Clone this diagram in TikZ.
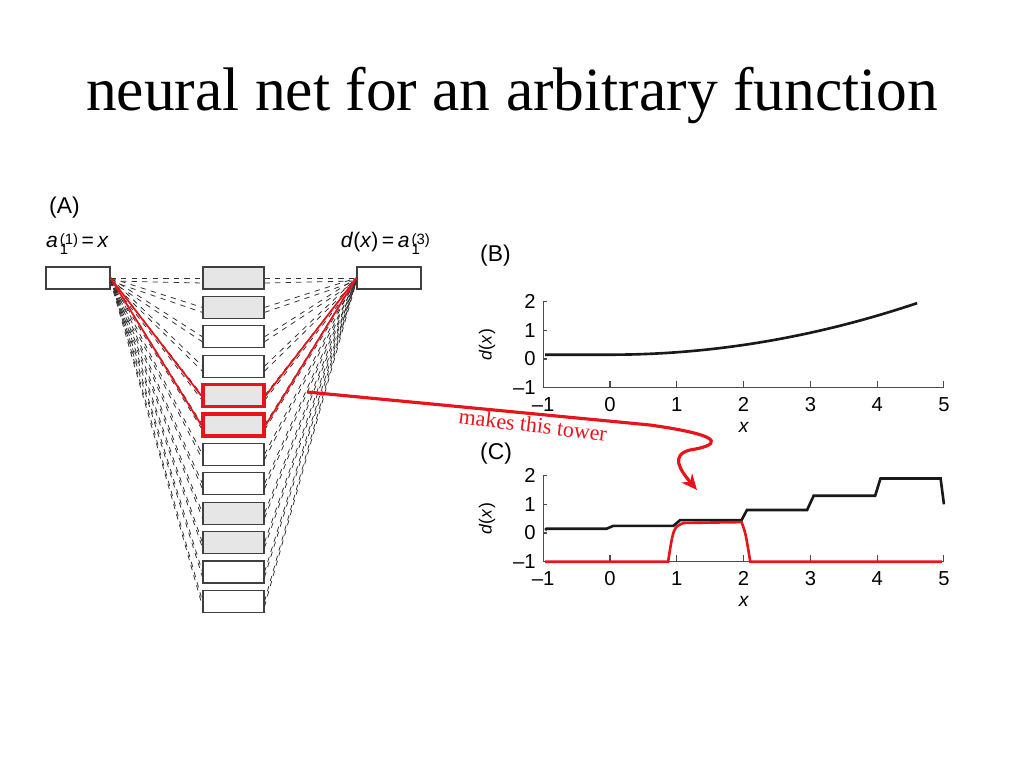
\documentclass[tikz,border=0pt]{standalone}
\usepackage{fontspec}
\setmainfont{Liberation Serif}
\setsansfont{Liberation Sans}
\usepackage{xcolor}
\definecolor{netred}{HTML}{E8141B}
\definecolor{unitgray}{HTML}{E6E6E6}
\usetikzlibrary{arrows.meta,calc,positioning}
\newcommand{\supsub}[2]{\kern1.2pt\raisebox{-0.2ex}{\fontsize{8.5}{8.5}\selectfont\begin{tabular}{@{}l@{}}#1\\[-0.6ex]#2\end{tabular}}}

\begin{document}
\begin{tikzpicture}[x=0.02cm,y=-0.02cm,
    >=Stealth,
    every node/.style={font=\sffamily},
    unit/.style={draw=black!75, fill=#1, minimum width=1.22cm, minimum height=0.44cm, inner sep=0pt, line width=0.6pt},
    unit/.default=white,
    wire/.style={dashed, line width=0.45pt, black!80},
    redwire/.style={netred, line width=1pt},
    axis/.style={line width=0.6pt, black!70},
    ticklab/.style={font=\sffamily\fontsize{11.5}{11.5}\selectfont},
    curve/.style={line width=1.5pt, black!90},
  ]
  \useasboundingbox (0,0) rectangle (1024,768);

  % title
  \node[font=\rmfamily\fontsize{35}{35}\selectfont] (title) at (512,95) {neural net for an arbitrary function};

  % panel (A): the network
  \node[font=\sffamily\fontsize{13}{13}\selectfont, anchor=west] (labA) at (43,208) {(A)};
  \node[unit, minimum width=1.28cm] (inp) at (78,278) {};
  \node[unit, minimum width=1.28cm] (out) at (389,278) {};
  \node[font=\sffamily\fontsize{12}{12}\selectfont, anchor=west, inner sep=1pt] (inlab) at (44,246) {\textit{a}\supsub{(1)}{1}\,=\,\textit{x}};
  \node[font=\sffamily\fontsize{12}{12}\selectfont, anchor=east, inner sep=1pt] (outlab) at (432,246) {\textit{d}(\textit{x})\,=\,\textit{a}\supsub{(3)}{1}};
  \foreach \i/\c in {1/unitgray,2/unitgray,3/white,4/white,5/unitgray,6/unitgray,7/white,8/white,9/unitgray,10/unitgray,11/white,12/white} {
    \node[unit=\c] (h\i) at (233.5,{278+29.4*(\i-1)}) {};
    \draw[wire] (inp.east) -- (h\i.west);
    \draw[wire] ($(inp.east)+(0,3)$) -- ($(h\i.west)+(0,5)$);
    \draw[wire] (h\i.east) -- (out.west);
    \draw[wire] ($(h\i.east)+(0,5)$) -- ($(out.west)+(0,3)$);
  }
  \foreach \i in {5,6} {
    \node[unit=unitgray, draw=netred, line width=2pt] (r\i) at (h\i) {};
    \draw[redwire] (inp.east) -- (r\i.west);
    \draw[redwire] (r\i.east) -- (out.west);
  }

  % panel (B)
  \node[font=\sffamily\fontsize{13}{13}\selectfont, anchor=west] (labB) at (474,256) {(B)};
  \begin{scope}[shift={(610,359)}, x=1.336cm, y=0.574cm]
    \draw[axis] (-1,2) -- (-1,-1) -- (5,-1);
    \foreach \t in {-1,...,5} {
      \draw[axis] (\t,-1) -- ++(0,0.22);
    }
    \foreach \t/\s in {-1/{\textendash1},0/0,1/1,2/2,3/3,4/4,5/5} {
      \node[ticklab, below] (bx\t) at (\t,-1.12) {\s};
    }
    \foreach \t/\s in {-1/{\textendash1},0/0,1/1,2/2} {
      \draw[axis] (-1,\t) -- ++(0.05,0);
      \node[ticklab, left] (by\t) at (-1.02,\t) {\s};
    }
    \node[ticklab, font=\sffamily\itshape\fontsize{11}{11}\selectfont] (bxl) at (2,-2.4) {x};
    \node[ticklab, font=\sffamily\fontsize{10}{10}\selectfont, rotate=90] (byl) at (-1.84,0.5) {\textit{d}(\textit{x})};
    \draw[curve] plot[domain=-0.97:4.6, samples=50] (\x,{0.15+0.085*(max(\x,0))^2});
  \end{scope}

  % panel (C)
  \node[font=\sffamily\fontsize{13}{13}\selectfont, anchor=west] (labC) at (474,454) {(C)};
  \begin{scope}[shift={(610,533)}, x=1.336cm, y=0.574cm]
    \draw[axis] (-1,2) -- (-1,-1) -- (5,-1);
    \foreach \t in {-1,...,5} {
      \draw[axis] (\t,-1) -- ++(0,0.22);
    }
    \foreach \t/\s in {-1/{\textendash1},0/0,1/1,2/2,3/3,4/4,5/5} {
      \node[ticklab, below] (cx\t) at (\t,-1.12) {\s};
    }
    \foreach \t/\s in {-1/{\textendash1},0/0,1/1,2/2} {
      \draw[axis] (-1,\t) -- ++(0.05,0);
      \node[ticklab, left] (cy\t) at (-1.02,\t) {\s};
    }
    \node[ticklab, font=\sffamily\itshape\fontsize{11}{11}\selectfont] (cxl) at (2,-2.4) {x};
    \node[ticklab, font=\sffamily\fontsize{10}{10}\selectfont, rotate=90] (cyl) at (-1.84,0.5) {\textit{d}(\textit{x})};
    \draw[curve] (-0.97,0.1) -- (-0.95,0.15) -- (-0.05,0.15) -- (0.05,0.25) -- (0.95,0.25)
      -- (1.05,0.45) -- (1.97,0.45) -- (2.05,0.8) -- (2.95,0.8) -- (3.05,1.3) -- (3.97,1.3)
      -- (4.05,1.9) -- (4.95,1.9) -- (5,1);
    \draw[curve, netred] (-0.97,-1) -- (0.87,-1) .. controls (0.95,0.2) .. (1.1,0.35)
      -- (1.97,0.38) .. controls (2.03,0) .. (2.1,-1) -- (4.97,-1);
  \end{scope}

  % red annotation arrow
  \coordinate (tail) at (307,392);
  \coordinate (tip) at (697,490);
  \draw[netred, line width=1.8pt, -{Stealth[length=9pt,width=8pt]}] (tail) -- (650,425)
    .. controls (735,437) and (715,446) .. (690,450)
    .. controls (670,455) and (680,470) .. (tip);
  \node[font=\rmfamily\fontsize{12.5}{12.5}\selectfont, text=netred, rotate=-7] (tower) at (533,425) {makes this tower};
\end{tikzpicture}
\end{document}
